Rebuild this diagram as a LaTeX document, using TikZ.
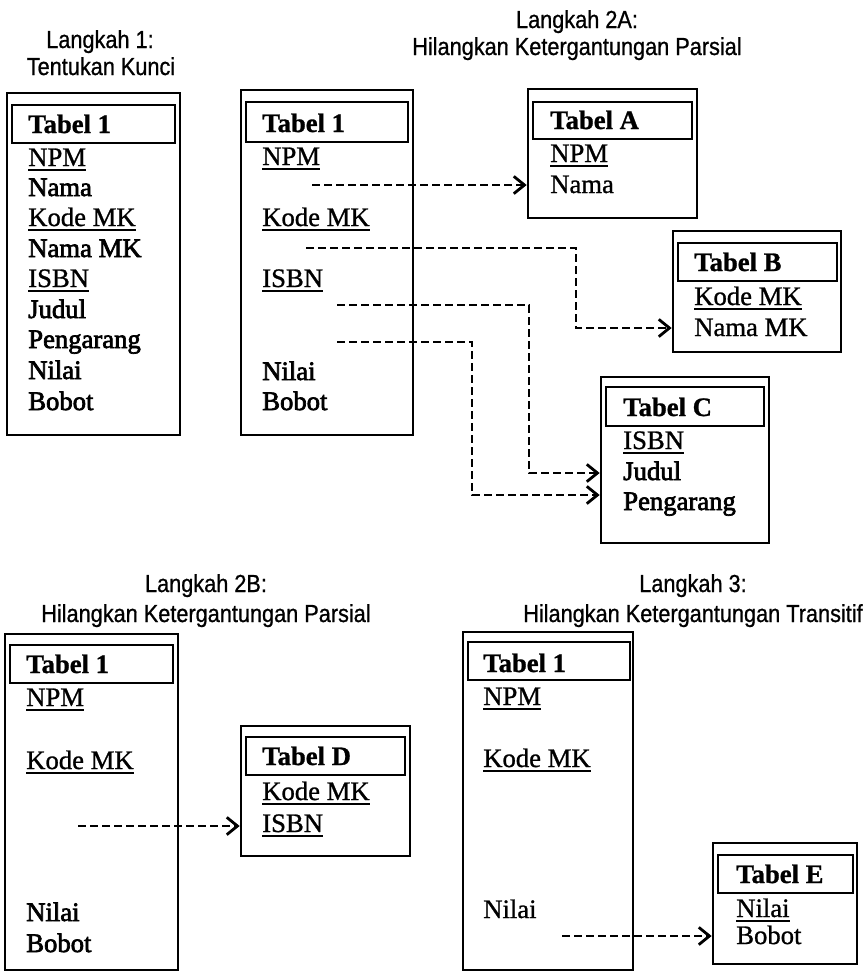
\documentclass[tikz,border=0pt]{standalone}
\usepackage{fontspec}
\setmainfont{Liberation Serif}[FakeBold=1.0]
\newfontfamily\thickfont{Liberation Serif}[FakeBold=2.6]
\newfontfamily\ttlfont{Liberation Sans}[FakeStretch=0.88,FakeBold=0.8]
\usetikzlibrary{arrows.meta,fit}
\newcommand{\keyul}[1]{\setbox0=\hbox{#1}\rlap{\rule[-3.8pt]{\wd0}{1.5pt}}\box0}
\begin{document}
\begin{tikzpicture}[x=0.75pt,y=-0.75pt,
  outerbox/.style={draw, line width=2pt, inner sep=0pt},
  hdrbox/.style={draw, line width=2.1pt, inner sep=0pt},
  item/.style={anchor=base west, inner sep=0pt, font=\fontsize{20}{22}\selectfont},
  bitem/.style={item, font=\thickfont\fontsize{20}{22}\selectfont},
  head/.style={anchor=base west, inner sep=0pt, font=\fontsize{20}{22}\selectfont\bfseries},
  ttl/.style={anchor=base, inner sep=0pt, font=\ttlfont\fontsize{18.5}{21}\selectfont},
  conn/.style={line width=2.2pt, dash pattern=on 6pt off 3pt, -{Straight Barb[length=8pt,width=13pt,line width=2.1pt]}}]
\useasboundingbox (0,0) rectangle (866,975);

% ---------- Langkah 1 ----------
\node[ttl] (t1a) at (100,48) {Langkah 1:};
\node[ttl] (t1b) at (101,75) {Tentukan Kunci};
\node[outerbox, fit={(7,93) (180,435)}] (b1) {};
\node[hdrbox, fit={(12,105) (175,143)}] (h1) {};
\node[head] (b1t) at (28,133) {Tabel 1};
\node[item]  (b1r1) at (28,166) {\keyul{NPM}};
\node[bitem] (b1r2) at (28,196) {Nama};
\node[item]  (b1r3) at (28,226) {\keyul{Kode MK}};
\node[bitem] (b1r4) at (28,257) {Nama MK};
\node[item]  (b1r5) at (28,287) {\keyul{ISBN}};
\node[bitem] (b1r6) at (28,318) {Judul};
\node[bitem] (b1r7) at (28,348) {Pengarang};
\node[bitem] (b1r8) at (28,379) {Nilai};
\node[bitem] (b1r9) at (28,410) {Bobot};

% ---------- Langkah 2A ----------
\node[ttl] (t2a) at (577,28) {Langkah 2A:};
\node[ttl] (t2b) at (577,55) {Hilangkan Ketergantungan Parsial};
\node[outerbox, fit={(241,90) (413,435)}] (b2) {};
\node[hdrbox, fit={(246,102) (408,142)}] (h2) {};
\node[head] (b2t) at (262,132) {Tabel 1};
\node[item]  (b2r1) at (262,165) {\keyul{NPM}};
\node[item]  (b2r2) at (262,226) {\keyul{Kode MK}};
\node[item]  (b2r3) at (262,287) {\keyul{ISBN}};
\node[bitem] (b2r4) at (262,380) {Nilai};
\node[bitem] (b2r5) at (262,410) {Bobot};

% Tabel A
\node[outerbox, fit={(528,89) (697,218)}] (bA) {};
\node[hdrbox, fit={(533,102) (692,139)}] (hA) {};
\node[head] (bAt) at (550,129) {Tabel A};
\node[item] (bAr1) at (550,162) {\keyul{NPM}};
\node[item] (bAr2) at (550,193) {Nama};

% Tabel B
\node[outerbox, fit={(673,231) (841,352)}] (bB) {};
\node[hdrbox, fit={(678,243) (837,281)}] (hB) {};
\node[head] (bBt) at (694,271) {Tabel B};
\node[item] (bBr1) at (694,305) {\keyul{Kode MK}};
\node[item] (bBr2) at (694,336) {Nama MK};

% Tabel C
\node[outerbox, fit={(601,377) (769,543)}] (bC) {};
\node[hdrbox, fit={(606,387) (764,426)}] (hC) {};
\node[head] (bCt) at (623,416) {Tabel C};
\node[item]  (bCr1) at (623,449) {\keyul{ISBN}};
\node[bitem] (bCr2) at (623,480) {Judul};
\node[bitem] (bCr3) at (623,510) {Pengarang};

% connectors 2A
\coordinate (c1s) at (312,185);
\coordinate (c2s) at (306,248);
\coordinate (c2e) at (0,328);
\coordinate (c3s) at (337,305);
\coordinate (c3e) at (0,473);
\coordinate (c4s) at (337,342);
\coordinate (c4e) at (0,495);
\draw[conn] (c1s) -- (bA.west |- c1s);
\draw[conn] (c2s) -- (576,248) -- (576,328) -- (bB.west |- c2e);
\draw[conn] (c3s) -- (529,305) -- (529,473) -- (bC.west |- c3e);
\draw[conn] (c4s) -- (472,342) -- (472,495) -- (bC.west |- c4e);

% ---------- Langkah 2B ----------
\node[ttl] (t3a) at (206,592) {Langkah 2B:};
\node[ttl] (t3b) at (206,622) {Hilangkan Ketergantungan Parsial};
\node[outerbox, fit={(5,634) (178,970)}] (b3) {};
\node[hdrbox, fit={(10,645) (173,683)}] (h3) {};
\node[head] (b3t) at (26,673) {Tabel 1};
\node[item]  (b3r1) at (26,706) {\keyul{NPM}};
\node[item]  (b3r2) at (26,769) {\keyul{Kode MK}};
\node[bitem] (b3r3) at (26,921) {Nilai};
\node[bitem] (b3r4) at (26,952) {Bobot};

% Tabel D
\node[outerbox, fit={(241,726) (410,856)}] (bD) {};
\node[hdrbox, fit={(246,737) (405,775)}] (hD) {};
\node[head] (bDt) at (262,765) {Tabel D};
\node[item] (bDr1) at (262,800) {\keyul{Kode MK}};
\node[item] (bDr2) at (262,832) {\keyul{ISBN}};
\coordinate (c5s) at (78,826);
\draw[conn] (c5s) -- (bD.west |- c5s);

% ---------- Langkah 3 ----------
\node[ttl] (t4a) at (693,592) {Langkah 3:};
\node[ttl] (t4b) at (693,622) {Hilangkan Ketergantungan Transitif};
\node[outerbox, fit={(463,632) (633,970)}] (b4) {};
\node[hdrbox, fit={(468,642) (630,680)}] (h4) {};
\node[head] (b4t) at (483,672) {Tabel 1};
\node[item] (b4r1) at (483,705) {\keyul{NPM}};
\node[item] (b4r2) at (483,767) {\keyul{Kode MK}};
\node[item] (b4r3) at (483,918) {Nilai};

% Tabel E
\node[outerbox, fit={(713,843) (857,964)}] (bE) {};
\node[hdrbox, fit={(718,855) (853,893)}] (hE) {};
\node[head] (bEt) at (736,883) {Tabel E};
\node[item] (bEr1) at (736,917) {\keyul{Nilai}};
\node[item] (bEr2) at (736,944) {Bobot};
\coordinate (c6s) at (562,936);
\draw[conn] (c6s) -- (bE.west |- c6s);
\end{tikzpicture}
\end{document}
